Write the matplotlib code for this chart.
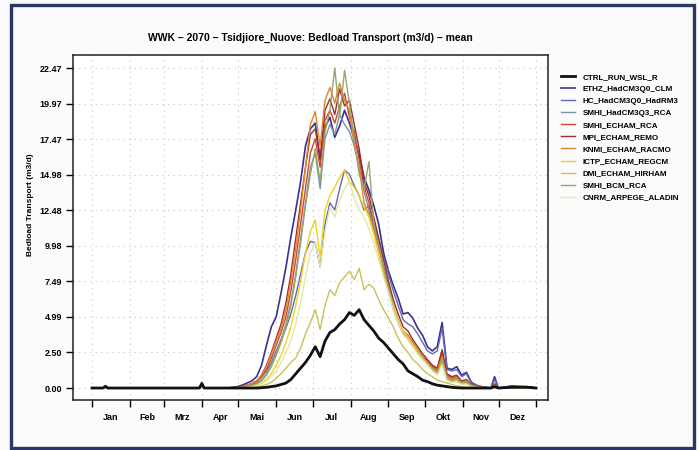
import matplotlib
matplotlib.use("Agg")
import matplotlib.pyplot as plt
from matplotlib.patches import Rectangle

plt.rcParams['font.family'] = ['Liberation Sans', 'DejaVu Sans']

# ---------------- data ----------------
month_starts = [1, 32, 60, 91, 121, 152, 182, 213, 244, 274, 305, 335, 365]
month_mids = [16, 46, 75, 106, 136, 167, 197, 228, 259, 289, 320, 350]
month_labels = ['Jan', 'Feb', 'Mrz', 'Apr', 'Mai', 'Jun', 'Jul', 'Aug', 'Sep', 'Okt', 'Nov', 'Dez']

ytick_vals = [0.0, 2.496, 4.992, 7.488, 9.984, 12.48, 14.977, 17.473, 19.969, 22.465]
ytick_labels = ['0.00', '2.50', '4.99', '7.49', '9.98', '12.48', '14.98', '17.47', '19.97', '22.47']

pre_days = [1, 10, 12, 14, 89, 91, 93, 112]
season_days = [116, 120, 124, 128, 132, 136, 140, 144, 148, 152, 156, 160, 164, 168, 172, 176,
               180, 184, 188, 192, 196, 200, 204, 208, 212, 216, 220, 224, 228, 232, 236, 240,
               244, 248, 252, 256, 260, 264, 268, 272, 276, 280, 284, 288, 292, 296, 300, 304,
               308, 312, 316, 320, 324]
post_days = [328, 331, 334, 345, 358, 365]
days = pre_days + season_days + post_days

ctrl = [0, 0, 0.12, 0, 0, 0.3, 0, 0,
        0, 0, 0, 0, 0, 0, 0.02, 0.05, 0.1, 0.15, 0.25, 0.35, 0.6, 1.0, 1.4, 1.8,
        2.3, 2.9, 2.2, 3.3, 3.9, 4.1, 4.5, 4.8, 5.3, 5.1, 5.5, 4.8, 4.4, 4.0, 3.5, 3.2,
        2.8, 2.4, 2.0, 1.7, 1.2, 1.0, 0.8, 0.55, 0.45, 0.3, 0.2, 0.15, 0.1, 0.05, 0.02, 0,
        0, 0, 0, 0, 0,
        0, 0.1, 0, 0.05, 0.05, 0]

ethz = [0, 0, 0, 0, 0, 0.4, 0, 0,
        0.05, 0.1, 0.2, 0.35, 0.5, 0.8, 1.6, 3.0, 4.3, 5.0, 6.7, 8.5, 10.6, 12.5, 14.5, 17.0,
        18.2, 18.6, 16.0, 18.3, 19.0, 17.6, 18.4, 19.5, 18.6, 17.5, 16.4, 14.8, 13.9, 12.8, 11.5, 9.5,
        8.2, 7.2, 6.3, 5.2, 5.3, 4.9, 4.2, 3.7, 2.9, 2.6, 2.9, 4.6, 1.4, 1.3, 1.5, 0.9,
        1.1, 0.4, 0.2, 0.1, 0.05,
        0, 0.8, 0, 0.15, 0.1, 0]

hc = [0, 0, 0, 0, 0, 0.2, 0, 0,
      0, 0.05, 0.1, 0.2, 0.3, 0.5, 0.8, 1.2, 1.8, 2.6, 3.4, 4.2, 5.2, 6.5, 8.0, 9.5,
      10.3, 10.2, 8.5, 11.5, 13.0, 12.5, 14.0, 15.3, 15.0, 14.2, 13.5, 12.5, 12.8, 11.5, 10.5, 9.2,
      8.0, 6.8, 5.8, 4.8, 4.5, 4.3, 3.8, 3.2, 2.6, 2.4, 2.6, 4.2, 1.3, 1.2, 1.3, 0.8,
      1.0, 0.35, 0.2, 0.1, 0.05,
      0, 0.6, 0, 0.1, 0.05, 0]

smhi_q3 = [0, 0, 0, 0, 0, 0, 0, 0,
           0, 0, 0.05, 0.1, 0.2, 0.35, 0.6, 1.0, 1.7, 2.5, 3.4, 4.5, 6.0, 8.0, 10.5, 13.0,
           15.5, 16.5, 14.0, 17.5, 18.5, 17.8, 19.2, 18.5, 18.0, 17.0, 15.5, 13.8, 12.5, 11.2, 9.8, 8.3,
           7.0, 5.7, 4.7, 3.9, 3.6, 3.1, 2.6, 2.1, 1.8, 1.4, 1.2, 2.3, 0.8, 0.6, 0.7, 0.4,
           0.45, 0.2, 0.1, 0.05, 0,
           0, 0.2, 0, 0, 0, 0]

smhi_echam = [0, 0, 0, 0, 0, 0, 0, 0,
              0, 0, 0.05, 0.15, 0.25, 0.45, 0.8, 1.3, 2.1, 3.0, 3.9, 5.0, 6.8, 9.0, 11.5, 14.0,
              16.5, 17.5, 15.5, 18.8, 19.5, 18.6, 19.8, 20.7, 19.0, 18.0, 16.0, 14.2, 13.0, 11.5, 10.0, 8.5,
              7.2, 5.8, 4.8, 4.0, 3.7, 3.2, 2.7, 2.2, 1.9, 1.5, 1.3, 2.5, 0.9, 0.7, 0.8, 0.45,
              0.5, 0.2, 0.1, 0.05, 0,
              0, 0.2, 0, 0, 0, 0]

mpi = [0, 0, 0.15, 0, 0, 0.3, 0, 0,
       0, 0.05, 0.1, 0.2, 0.3, 0.5, 0.9, 1.6, 2.5, 3.5, 4.5, 6.0, 8.0, 10.5, 13.0, 15.5,
       17.8, 18.2, 16.2, 19.5, 20.3, 19.2, 21.0, 19.8, 20.2, 18.5, 16.8, 14.5, 13.5, 12.0, 10.5, 9.0,
       7.5, 6.2, 5.2, 4.3, 4.0, 3.4, 2.9, 2.4, 2.0, 1.6, 1.4, 2.7, 1.0, 0.8, 0.9, 0.5,
       0.6, 0.25, 0.1, 0.05, 0,
       0, 0.3, 0, 0.05, 0.1, 0]

knmi = [0, 0, 0, 0, 0, 0, 0, 0,
        0, 0.05, 0.1, 0.2, 0.3, 0.5, 0.9, 1.5, 2.4, 3.3, 4.2, 5.5, 7.5, 9.8, 12.5, 15.5,
        18.5, 19.4, 17.0, 20.2, 21.1, 20.0, 21.4, 20.2, 19.5, 17.0, 15.5, 13.0, 12.2, 11.0, 9.5, 8.0,
        6.8, 5.5, 4.6, 3.8, 3.5, 3.0, 2.6, 2.1, 1.8, 1.4, 1.2, 2.2, 0.8, 0.6, 0.7, 0.4,
        0.5, 0.2, 0.1, 0.05, 0,
        0, 0.2, 0, 0, 0, 0]

ictp = [0, 0, 0, 0, 0, 0, 0, 0,
        0, 0, 0, 0.05, 0.1, 0.2, 0.35, 0.6, 1.0, 1.6, 2.3, 3.2, 4.3, 5.8, 7.5, 9.5,
        11.0, 11.8, 9.2, 12.5, 13.5, 14.1, 14.8, 15.3, 14.5, 14.1, 13.5, 12.7, 12.0, 10.8, 9.5, 8.2,
        7.0, 5.8, 4.8, 4.0, 3.6, 3.1, 2.6, 2.1, 1.7, 1.3, 1.0, 1.8, 0.6, 0.5, 0.5, 0.3,
        0.3, 0.1, 0.05, 0, 0,
        0, 0.1, 0, 0, 0, 0]

dmi = [0, 0, 0, 0, 0, 0, 0, 0,
       0, 0, 0, 0, 0.05, 0.1, 0.15, 0.25, 0.4, 0.7, 1.0, 1.4, 1.8, 2.1, 2.8, 3.8,
       4.6, 5.5, 4.1, 5.8, 6.9, 6.5, 7.4, 7.8, 8.2, 7.6, 8.4, 6.9, 7.3, 7.0, 6.2, 5.5,
       4.9, 4.3, 3.5, 2.9, 2.5, 2.0, 1.7, 1.3, 1.0, 0.8, 0.55, 0.45, 0.35, 0.25, 0.15, 0.1,
       0.05, 0, 0, 0, 0,
       0, 0, 0, 0, 0, 0]

smhi_bcm = [0, 0, 0, 0, 0, 0, 0, 0,
            0, 0, 0.05, 0.1, 0.2, 0.3, 0.5, 0.9, 1.5, 2.3, 3.2, 4.3, 5.8, 7.8, 10.2, 12.8,
            15.0, 16.8, 14.5, 18.0, 19.5, 22.47, 19.0, 22.3, 20.0, 17.5, 15.0, 14.0, 15.9, 11.5, 10.0, 8.4,
            7.0, 5.6, 4.6, 3.8, 3.4, 2.9, 2.5, 2.0, 1.7, 1.3, 1.1, 2.0, 0.7, 0.5, 0.6, 0.35,
            0.4, 0.15, 0.1, 0.05, 0,
            0, 0.1, 0, 0, 0, 0]

cnrm = [0, 0, 0, 0, 0, 0, 0, 0,
        0, 0, 0, 0.05, 0.1, 0.15, 0.3, 0.5, 0.8, 1.2, 1.8, 2.5, 3.3, 4.5, 6.0, 7.8,
        9.5, 10.2, 8.5, 11.0, 12.7, 12.0, 13.2, 14.0, 14.5, 13.3, 12.5, 12.0, 11.2, 10.2, 9.0, 7.8,
        6.7, 5.5, 4.6, 3.8, 3.4, 2.9, 2.4, 2.0, 1.6, 1.2, 0.9, 1.6, 0.5, 0.4, 0.4, 0.25,
        0.25, 0.1, 0.05, 0, 0,
        0, 0, 0, 0, 0, 0]

series_names = ['CTRL_RUN_WSL_R', 'ETHZ_HadCM3Q0_CLM', 'HC_HadCM3Q0_HadRM3',
                'SMHI_HadCM3Q3_RCA', 'SMHI_ECHAM_RCA', 'MPI_ECHAM_REMO',
                'KNMI_ECHAM_RACMO', 'ICTP_ECHAM_REGCM', 'DMI_ECHAM_HIRHAM',
                'SMHI_BCM_RCA', 'CNRM_ARPEGE_ALADIN']
series_values = [ctrl, ethz, hc, smhi_q3, smhi_echam, mpi, knmi, ictp, dmi, smhi_bcm, cnrm]
series_colors = ['#111111', '#3a3190', '#5d6bb8', '#7d8fa6', '#d2462e', '#9b2f2a',
                 '#e0862e', '#f0d21e', '#c9c25a', '#93a86a', '#e6e6a8']
series_widths = [2.0, 1.2, 1.0, 1.0, 1.0, 1.0, 1.0, 1.0, 1.0, 1.0, 1.0]

title = 'WWK \u2013 2070 \u2013 Tsidjiore_Nuove: Bedload Transport (m3/d) \u2013 mean'
ylabel = 'Bedload Transport (m3/d)'

# ---------------- figure ----------------
W, H = 699, 450
fig = plt.figure(figsize=(W / 100, H / 100), dpi=100, facecolor='#fbfbfb')

# outer frame
fig.patches.append(Rectangle((11 / W, 1 - 448 / H), (694 - 11) / W, (448 - 5) / H,
                             transform=fig.transFigure, fill=False,
                             edgecolor='#2b3566', linewidth=2.4))

ax = fig.add_axes([73 / W, 1 - 400 / H, (548 - 73) / W, (400 - 55) / H])
ax.set_facecolor('white')

order = list(range(1, len(series_values))) + [0]
handles = {}
for i in order:
    ln, = ax.plot(days, series_values[i], color=series_colors[i], lw=series_widths[i],
                  label=series_names[i], zorder=3 if i else 4)
    handles[i] = ln

ax.set_xlim(-14.6, 374.8)
ax.set_ylim(-0.84, 23.38)

ax.set_xticks(month_starts)
ax.set_xticklabels([])
ax.set_xticks(month_mids, minor=True)
ax.set_xticklabels(month_labels, minor=True, fontsize=6.5, fontweight='bold')
ax.tick_params(axis='x', which='minor', length=0, pad=9)
ax.tick_params(axis='x', which='major', length=5, width=1, direction='out')

ax.set_yticks(ytick_vals)
ax.set_yticklabels(ytick_labels, fontsize=6.5, fontweight='bold')
ax.tick_params(axis='y', length=5, width=1, direction='out', pad=3)

ax.grid(True, which='major', linestyle=(0, (1, 4)), color='#c4c4c4', linewidth=0.8)
for s in ax.spines.values():
    s.set_linewidth(1.1)
    s.set_color('#222222')

fig.text(310 / W, 1 - 38 / H, title, ha='center', va='center', fontsize=7.5, fontweight='bold')
fig.text(30 / W, 1 - 205 / H, ylabel, ha='center', va='center', rotation=90,
         fontsize=6, fontweight='bold')

leg = fig.legend([handles[i] for i in range(len(series_values))], series_names,
                 loc='upper left', bbox_to_anchor=(558 / W, 1 - 70 / H),
                 frameon=False, fontsize=5.8, handlelength=1.7, handletextpad=1.0,
                 labelspacing=0.55, borderaxespad=0)
for t in leg.get_texts():
    t.set_fontweight('bold')

fig.savefig('out.png', dpi=100, facecolor=fig.get_facecolor())
